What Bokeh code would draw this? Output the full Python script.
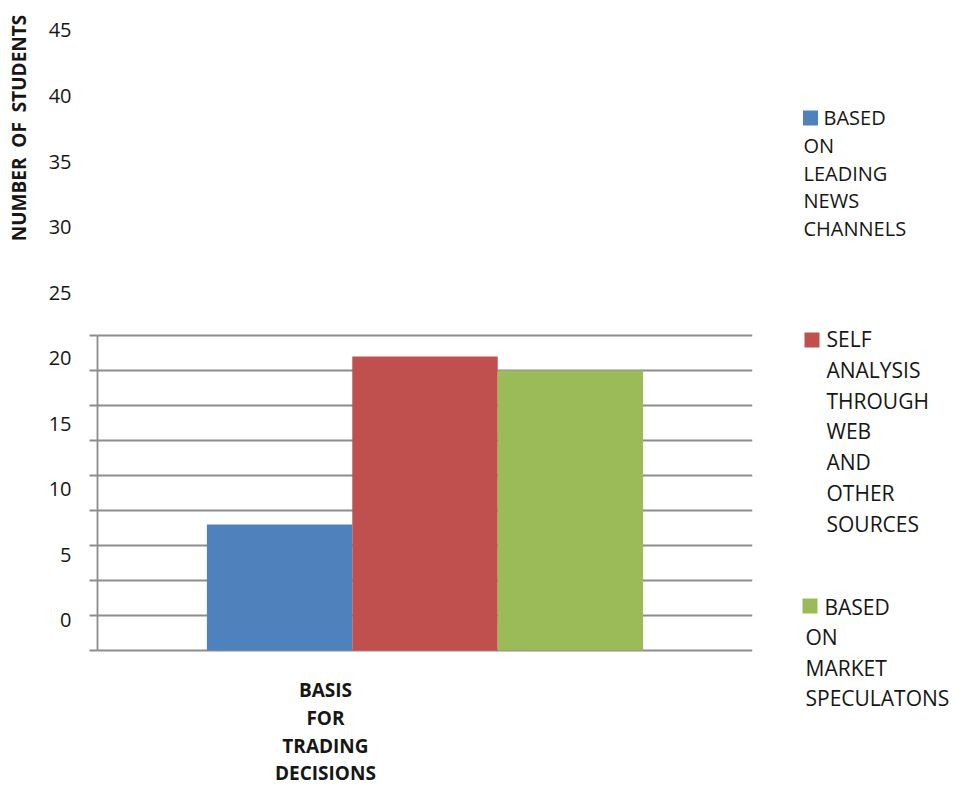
from math import pi

from bokeh.core.properties import value
from bokeh.embed import file_html
from bokeh.layouts import row
from bokeh.models import ColumnDataSource, FixedTicker, LinearAxis, Range1d
from bokeh.plotting import figure
from bokeh.resources import INLINE

# ---- data -------------------------------------------------------------
categories = [
    "BASED ON LEADING NEWS CHANNELS",
    "SELF ANALYSIS THROUGH WEB AND OTHER SOURCES",
    "BASED ON MARKET SPECULATONS",
]
students = [18, 42, 40]
colors = ["#4F81BD", "#C0504D", "#9BBB59"]
y_ticks = [0, 5, 10, 15, 20, 25, 30, 35, 40, 45]
group_label = "BASIS FOR TRADING DECISIONS"
y_title = "NUMBER\u00a0\u00a0OF\u00a0\u00a0STUDENTS"

# ---- styling ------------------------------------------------------------
GRAY = "#8c8c8c"
TEXT = "#161616"
FONT = "Open Sans"
LINE_W = 1.8


def bare(fig):
    fig.axis.visible = False
    fig.grid.visible = False
    fig.outline_line_color = None
    fig.background_fill_color = "white"
    fig.border_fill_color = "white"


# ---- strip holding the vertical axis title ------------------------------
ttl = figure(
    width=40, height=785,
    x_range=Range1d(0, 40), y_range=Range1d(0, 770),
    output_backend="svg", toolbar_location=None,
    min_border=0, min_border_top=15,
)
bare(ttl)
ttl.text(
    x=[18], y=[657.5], text=[y_title], angle=pi / 2,
    text_font=value(FONT), text_font_style="bold",
    text_font_size=value("19px"),
    text_align="center", text_baseline="middle", text_color=TEXT,
)

# ---- main bar chart -------------------------------------------------------
p = figure(
    width=730, height=785,
    x_range=Range1d(0, 1), y_range=Range1d(-19.2857, 90.714),
    x_axis_location=None,
    output_backend="svg", toolbar_location=None,
    min_border_left=57, min_border_right=18,
    min_border_top=15, min_border_bottom=0,
)
p.outline_line_color = None
p.background_fill_color = "white"
p.border_fill_color = "white"

# clustered bars around the single group
bar_w = 0.222
src = ColumnDataSource(dict(
    x=[0.5 + (i - 1) * bar_w for i in range(len(students))],
    top=students,
    color=colors,
    name=categories,
))
p.vbar(x="x", top="top", bottom=0, width=bar_w, fill_color="color",
       line_color=None, source=src)

# horizontal gridlines at the value ticks
p.xgrid.visible = False
p.ygrid.ticker = FixedTicker(ticks=y_ticks)
p.ygrid.grid_line_color = GRAY
p.ygrid.grid_line_width = LINE_W

# value axis: line and outward tick marks only
ax = p.yaxis[0]
ax.ticker = FixedTicker(ticks=y_ticks)
ax.bounds = (0, 45)
ax.axis_line_color = GRAY
ax.axis_line_width = LINE_W
ax.major_tick_line_color = GRAY
ax.major_tick_line_width = LINE_W
ax.major_tick_out = 8
ax.major_tick_in = 0
ax.minor_tick_line_color = None
ax.major_label_overrides = {t: "" for t in y_ticks}
ax.major_label_standoff = 0

# tick numbers on their own spread-out scale
p.extra_y_ranges = {"labels": Range1d(-12.585, 46.144)}
lab = LinearAxis(
    y_range_name="labels",
    ticker=FixedTicker(ticks=y_ticks),
    axis_line_color=None,
    major_tick_line_color=None,
    minor_tick_line_color=None,
    major_tick_out=0, major_tick_in=0,
    major_label_standoff=18,
    major_label_text_font=FONT,
    major_label_text_font_size="20px",
    major_label_text_color=TEXT,
)
p.add_layout(lab, "left")

# category caption beneath the bars, one word per line
words = group_label.split()
p.text(
    x=[0.348] * len(words),
    y=[-5.714 - k * 3.93 for k in range(len(words))],
    text=words,
    text_font=value(FONT), text_font_style="bold",
    text_font_size=value("19px"),
    text_align="center", text_baseline="middle", text_color=TEXT,
)

# ---- legend panel ---------------------------------------------------------
leg = figure(
    width=187, height=785,
    x_range=Range1d(0, 187), y_range=Range1d(785, 15),
    output_backend="svg", toolbar_location=None,
    min_border=0, min_border_top=15,
)
bare(leg)

swatch_x = [40, 41.5, 39.5]
swatch_y = [117.5, 339.5, 605.5]
first_x = [53, 56, 54]
rest_x = [33, 56, 35]
line_y0 = [117, 338.5, 606]
line_step = [27.75, 30.8, 30.5]
entry_size = ["20px", "21px", "21px"]

leg.rect(x=swatch_x, y=swatch_y, width=15, height=15,
         fill_color=colors, line_color=None)

tx, ty, tt, ts = [], [], [], []
for i, label in enumerate(categories):
    for k, word in enumerate(label.split()):
        tx.append(first_x[i] if k == 0 else rest_x[i])
        ty.append(line_y0[i] + k * line_step[i])
        tt.append(word)
        ts.append(entry_size[i])
leg.text(x="x", y="y", text="text", text_font_size="size",
         source=ColumnDataSource(dict(x=tx, y=ty, text=tt, size=ts)),
         text_font=value(FONT), text_baseline="middle",
         text_align="left", text_color=TEXT)

layout = row(ttl, p, leg)
open("out.html", "w").write(file_html(layout, INLINE))
